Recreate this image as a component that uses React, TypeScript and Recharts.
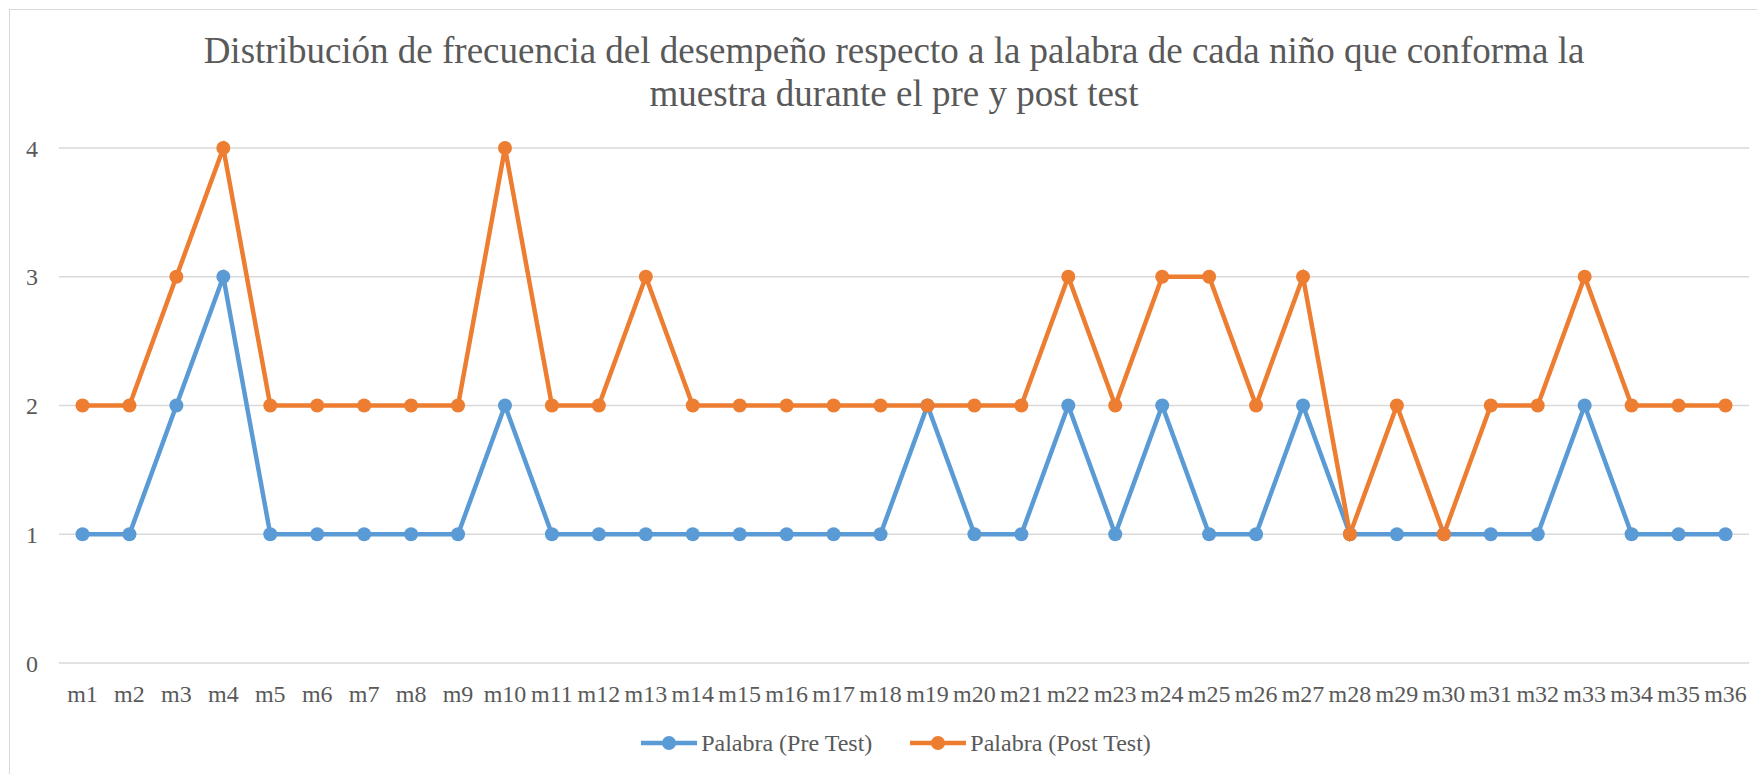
import { LineChart, Line, XAxis, YAxis, CartesianGrid, Legend } from 'recharts';

const muestras = [
  'm1', 'm2', 'm3', 'm4', 'm5', 'm6', 'm7', 'm8', 'm9', 'm10', 'm11', 'm12',
  'm13', 'm14', 'm15', 'm16', 'm17', 'm18', 'm19', 'm20', 'm21', 'm22', 'm23', 'm24',
  'm25', 'm26', 'm27', 'm28', 'm29', 'm30', 'm31', 'm32', 'm33', 'm34', 'm35', 'm36',
];

const preTest = [
  1, 1, 2, 3, 1, 1, 1, 1, 1, 2, 1, 1,
  1, 1, 1, 1, 1, 1, 2, 1, 1, 2, 1, 2,
  1, 1, 2, 1, 1, 1, 1, 1, 2, 1, 1, 1,
];

const postTest = [
  2, 2, 3, 4, 2, 2, 2, 2, 2, 4, 2, 2,
  3, 2, 2, 2, 2, 2, 2, 2, 2, 3, 2, 3,
  3, 2, 3, 1, 2, 1, 2, 2, 3, 2, 2, 2,
];

const yTicks = [0, 1, 2, 3, 4];
const seriesOrder = ['pre', 'post'];

const rows = muestras.map((m, i) => ({ muestra: m, pre: preTest[i], post: postTest[i] }));

const font = '"Liberation Serif", "Times New Roman", serif';
const textColor = '#595959';
const gridColor = '#D9D9D9';
const blue = '#5B9BD5';
const orange = '#ED7D31';

function LegendContent({ payload }: { payload?: any[] }) {
  // keep the series order (recharts sorts legend items by name otherwise)
  const items = [...(payload ?? [])].sort(
    (a, b) => seriesOrder.indexOf(a.dataKey) - seriesOrder.indexOf(b.dataKey)
  );
  return (
    <div
      style={{
        height: 62,
        display: 'flex',
        alignItems: 'center',
        justifyContent: 'center',
        gap: 38,
        fontFamily: font,
        fontSize: 24,
        color: textColor,
      }}
    >
      {items.map((entry) => (
        <span key={entry.value} style={{ display: 'flex', alignItems: 'center' }}>
          <svg width={56} height={16}>
            <line x1={0} y1={8} x2={56} y2={8} stroke={entry.color} strokeWidth={4.5} />
            <circle cx={28} cy={8} r={7} fill={entry.color} />
          </svg>
          <span style={{ marginLeft: 4 }}>{entry.value}</span>
        </span>
      ))}
    </div>
  );
}

export default function App() {
  return (
    <div
      style={{
        position: 'absolute',
        left: 0,
        top: 0,
        width: 1757,
        height: 774,
        overflow: 'hidden',
        background: '#fff',
      }}
    >
      <div
        style={{
          position: 'absolute',
          left: 9,
          top: 9,
          width: 1790,
          height: 800,
          border: `1px solid ${gridColor}`,
        }}
      />
      <div
        style={{
          position: 'absolute',
          left: 0,
          top: 29,
          width: 1788,
          textAlign: 'center',
          whiteSpace: 'nowrap',
          fontFamily: font,
          fontSize: 37,
          lineHeight: '43px',
          color: textColor,
        }}
      >
        Distribución de frecuencia del desempeño respecto a la palabra de cada niño que conforma la
        <br />
        muestra durante el pre y post test
      </div>
      <div style={{ position: 'absolute', left: 0, top: 0 }}>
        <LineChart
          width={1757}
          height={774}
          data={rows}
          margin={{ top: 148, right: 8, left: 0, bottom: 0 }}
        >
          <CartesianGrid stroke={gridColor} strokeWidth={1.5} vertical={false} />
          <XAxis
            dataKey="muestra"
            interval={0}
            height={49}
            padding={{ left: 23.5, right: 23.5 }}
            axisLine={false}
            tickLine={false}
            tickSize={0}
            tickMargin={22}
            tick={{ fill: textColor, fontSize: 24, fontFamily: font }}
          />
          <YAxis
            width={59}
            domain={[0, 4]}
            ticks={yTicks}
            axisLine={false}
            tickLine={false}
            tickSize={0}
            tickMargin={21}
            tick={{ fill: textColor, fontSize: 24, fontFamily: font }}
          />
          <Legend
            verticalAlign="bottom"
            wrapperStyle={{ left: 0, width: 1792 }}
            content={<LegendContent />}
          />
          <Line
            type="linear"
            dataKey="pre"
            name="Palabra (Pre Test)"
            stroke={blue}
            strokeWidth={4.5}
            dot={{ r: 7, fill: blue, stroke: blue, strokeWidth: 0 }}
            activeDot={false}
            isAnimationActive={false}
          />
          <Line
            type="linear"
            dataKey="post"
            name="Palabra (Post Test)"
            stroke={orange}
            strokeWidth={4.5}
            dot={{ r: 7, fill: orange, stroke: orange, strokeWidth: 0 }}
            activeDot={false}
            isAnimationActive={false}
          />
        </LineChart>
      </div>
    </div>
  );
}
